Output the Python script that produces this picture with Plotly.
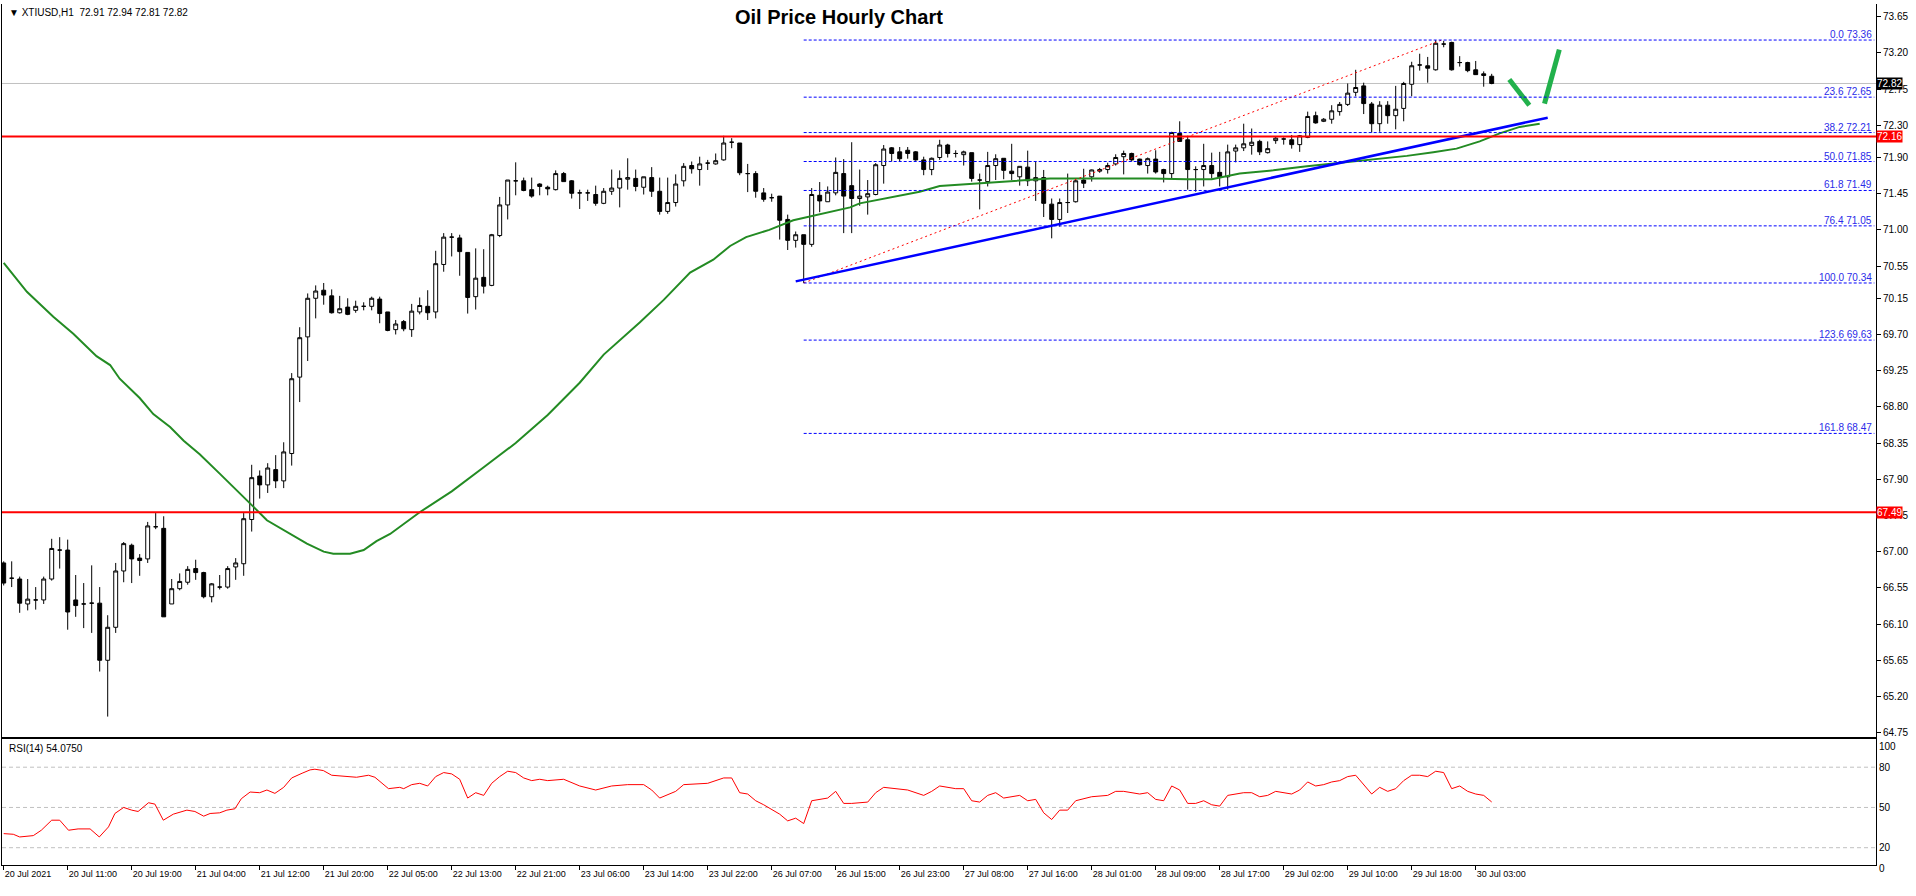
import plotly.graph_objects as go

# ---------------- data ----------------
opens = [66.86,66.67,66.66,66.35,66.40,66.40,66.66,67.02,67.02,66.40,66.35,66.36,66.36,65.65,66.06,66.76,67.08,66.92,66.91,67.31,
         67.29,66.35,66.54,66.62,66.79,66.74,66.44,66.56,66.56,66.81,66.85,67.40,67.94,67.83,68.02,67.88,68.22,69.17,69.67,70.15,
         70.25,70.18,69.97,70.04,70.00,70.05,70.05,70.14,69.98,69.76,69.86,69.76,69.98,70.05,69.98,70.57,70.91,70.90,70.72,70.17,
         70.41,70.31,70.93,71.31,71.61,71.61,71.50,71.57,71.53,71.50,71.70,71.61,71.46,71.46,71.44,71.33,71.48,71.52,71.63,71.64,
         71.53,71.65,71.48,71.23,71.34,71.61,71.80,71.75,71.83,71.82,71.87,72.09,72.08,71.70,71.70,71.46,71.40,71.42,71.13,70.87,
         70.94,70.82,71.43,71.35,71.46,71.70,71.55,71.39,71.41,71.44,71.80,72.02,71.97,71.99,71.97,71.87,71.75,71.90,72.055,71.95,
         71.935,71.96,71.62,71.60,71.80,71.89,71.73,71.66,71.78,71.61,71.65,71.32,71.13,71.34,71.35,71.62,71.66,71.73,71.75,71.82,
         71.91,71.95,71.88,71.80,71.88,71.75,71.70,72.20,72.12,71.75,71.75,71.80,71.715,71.66,71.98,72.02,72.05,72.10,71.96,72.11,
         72.13,72.12,72.06,72.15,72.42,72.35,72.375,72.47,72.56,72.71,72.79,72.565,72.32,72.55,72.42,72.51,72.81,73.05,73.04,72.99,
         73.31,73.33,73.08,73.08,72.99,72.94,72.91]
highs = [66.88,66.88,66.69,66.66,66.56,66.69,67.16,67.18,67.15,66.71,66.61,66.83,66.56,66.21,66.86,67.12,67.10,66.97,67.37,67.48,
         67.44,66.66,66.73,66.82,66.90,66.75,66.61,66.71,66.82,66.92,67.48,68.08,68.01,68.10,68.20,68.36,69.22,69.79,70.21,70.31,
         70.34,70.26,70.18,70.15,70.12,70.10,70.17,70.17,69.98,69.88,69.88,70.08,70.16,70.25,70.74,70.96,70.96,70.94,70.72,70.77,
         70.76,70.95,71.41,71.62,71.84,71.65,71.65,71.58,71.55,71.74,71.72,71.62,71.50,71.50,71.55,71.52,71.75,71.74,71.89,71.75,
         71.66,71.78,71.65,71.65,71.69,71.83,71.85,71.91,71.87,71.95,72.17,72.14,72.08,71.82,71.73,71.52,71.45,71.42,71.19,70.98,
         70.94,71.52,71.595,71.54,71.90,71.88,72.09,71.75,71.62,71.83,72.055,72.03,72.03,72.03,71.98,71.91,71.90,72.12,72.07,71.99,
         71.985,71.96,71.70,71.97,71.94,71.89,72.07,71.79,71.985,71.85,71.745,71.39,71.39,71.70,71.62,71.76,71.75,71.77,71.835,71.94,
         71.985,71.96,71.885,71.90,71.99,71.76,72.22,72.35,72.17,71.79,72.07,71.96,71.97,72.06,72.06,72.32,72.26,72.12,72.10,72.16,
         72.15,72.18,72.18,72.47,72.47,72.39,72.55,72.59,72.82,72.99,72.83,72.59,72.60,72.60,72.79,72.84,73.09,73.19,73.15,73.36,
         73.35,73.34,73.16,73.09,73.10,72.97,72.94]
lows = [66.58,66.56,66.24,66.27,66.28,66.35,66.64,66.79,66.03,66.19,66.05,65.99,65.51,64.95,65.99,66.62,66.61,66.70,66.86,67.28,
        66.19,66.35,66.52,66.59,66.65,66.42,66.37,66.53,66.54,66.65,66.70,67.25,67.66,67.73,67.79,67.79,68.07,68.86,69.37,69.90,
        70.07,69.96,69.96,69.94,69.97,70.00,70.00,69.84,69.74,69.70,69.74,69.67,69.95,69.88,69.90,70.48,70.67,70.43,69.96,70.01,
        70.21,70.30,70.91,71.13,71.43,71.48,71.40,71.43,71.43,71.49,71.60,71.39,71.26,71.36,71.30,71.32,71.435,71.28,71.50,71.48,
        71.44,71.41,71.19,71.20,71.29,71.54,71.70,71.55,71.745,71.81,71.86,72.015,71.68,71.47,71.40,71.35,71.35,70.88,70.75,70.78,
        70.34,70.79,71.22,71.35,71.43,70.96,70.96,71.30,71.19,71.43,71.575,71.85,71.85,71.885,71.86,71.68,71.68,71.87,71.90,71.90,
        71.80,71.60,71.255,71.54,71.62,71.63,71.62,71.55,71.545,71.36,71.16,70.895,71.04,71.21,71.34,71.52,71.60,71.71,71.70,71.80,
        71.69,71.85,71.80,71.70,71.70,71.59,71.64,72.10,71.50,71.475,71.54,71.64,71.54,71.50,71.84,71.98,71.935,71.93,71.95,72.07,
        72.06,72.01,71.97,72.14,72.32,72.34,72.32,72.42,72.54,72.66,72.44,72.21,72.22,72.32,72.25,72.35,72.66,72.98,72.83,72.98,
        73.27,72.98,73.03,72.96,72.925,72.78,72.81]
closes = [66.61,66.67,66.36,66.41,66.40,66.66,67.04,67.02,66.25,66.33,66.35,66.36,65.65,66.06,66.76,67.10,66.91,66.89,67.32,67.31,
          66.19,66.54,66.63,66.78,66.74,66.44,66.60,66.56,66.79,66.86,67.41,67.92,67.83,68.04,67.88,68.24,69.15,69.66,70.15,70.24,
          70.19,69.97,70.02,69.95,70.05,70.05,70.15,69.96,69.75,69.83,69.77,69.99,70.06,69.97,70.58,70.91,70.91,70.73,70.16,70.40,
          70.30,70.94,71.31,71.62,71.61,71.49,71.42,71.54,71.51,71.70,71.60,71.455,71.46,71.46,71.33,71.48,71.52,71.64,71.65,71.54,
          71.66,71.48,71.23,71.34,71.57,71.79,71.76,71.82,71.83,71.86,72.08,72.09,71.71,71.70,71.48,71.38,71.40,71.12,70.87,70.94,
          70.82,71.44,71.36,71.47,71.715,71.42,71.39,71.42,71.45,71.81,72.005,71.95,71.885,71.95,71.87,71.75,71.89,72.055,71.95,71.95,
          71.97,71.64,71.62,71.80,71.885,71.74,71.70,71.79,71.61,71.65,71.33,71.13,71.34,71.34,71.61,71.58,71.745,71.75,71.80,71.90,
          71.95,71.87,71.81,71.885,71.72,71.70,72.21,72.10,71.75,71.75,71.80,71.70,71.66,71.97,72.02,72.07,72.09,71.97,72.01,72.14,
          72.13,72.06,72.17,72.41,72.33,72.375,72.48,72.56,72.70,72.77,72.57,72.32,72.55,72.42,72.50,72.82,73.04,73.05,73.01,73.32,
          73.31,72.99,73.08,72.98,72.93,72.92,72.82]
bar_idx = list(range(len(closes)))

# moving average
ma_x = [0,2.9,6.2,8.7,11.6,13.3,14.5,17,18.7,20.8,22.5,24.5,27,29.5,31.2,32.9,35.4,37.9,40,41.2,43.3,45,46.6,48.3,
        52,56,60,64,68,72,75,77.2,79.5,82.5,85.8,88.7,90.8,92.8,95.7,98.7,102.9,105.8,107,111.2,114.5,117,120.4,125.8,
        130.8,136.2,143.3,147.9,151,154.5,158.7,162.9,167,171.2,175.4,178.7,181.6,184.5,187,189.5,192]
ma_vals = [70.59,70.23,69.92,69.71,69.43,69.32,69.15,68.91,68.71,68.55,68.38,68.21,67.97,67.73,67.56,67.39,67.24,67.10,67.00,66.975,66.975,67.02,67.13,67.22,
           67.49,67.75,68.05,68.35,68.70,69.10,69.45,69.64,69.85,70.13,70.47,70.63,70.80,70.91,71.00,71.12,71.21,71.28,71.33,71.41,71.475,71.545,71.57,71.61,
           71.64,71.64,71.64,71.63,71.63,71.70,71.74,71.79,71.83,71.87,71.92,71.965,72.01,72.10,72.20,72.28,72.32]

# RSI(14)
rsi_x = [0,1.2,2,3.7,4.7,6,7,8.1,9.3,10.8,11.95,13.1,13.9,15,16,16.8,18.1,18.9,19.95,21.2,22.9,23.9,25,25.8,27,27.9,28.9,29.7,30.8,32,32.9,33.9,35,36,
         37.3,38.3,38.9,39.95,41,42.45,44.1,45.6,46.4,48.1,49.5,50,51,52,53,54,55,56,57,58,59,60,61,62,63,64,65,66,67,68,70,72,74,76,78,80,81,82,84,85,88,90,91,
         92,93,94,95,97,98,99,100,101,103,104,105,106,108,109,110,113,115,116,117,119,120,121,122,123,124,125,127,128,129,130,131,132,133,134,136,138,
         139,140,142,143,144,145,146,147,148,149,150,151,152,153,154,155,156,157,158,159,161,162,163,164,165,166,167,168,169,170,171,172,173,174,175,
         176,177,178,179,180,181,182,183,184,185,186]
rsi_vals = [30.5,30,28,29,33,40.5,40.5,33,34,34,28,35.5,45.5,50,48,47,53.5,52.5,40.5,45,48,47,43.5,45.5,46,48,49,56.5,61.5,61,63,60.5,65,72,
            75.5,78,78.5,77.5,74,73.5,72.5,74,72.5,64,65,64,67,68,66,73,76,75,71,57,61,59,68,73,77,76,72,70,71,70,71,66,63,66,67,67,63,57,62,67,68,72,72,
            61,60,55,52,45,40,42,38,55,57,62,53,53,54,61,65,63,59,62,66,64,64,55,54,59,61,57,59,55,56,46,41,48,48,55,58,59,
            62,62,60,61,56,55,66,63,53,53,55,52,51,59,60,61,61,58,59,62,60,63,69,66,67,69,70,73,74,67,60,65,62,64,70,
            74,74,73,77,76,64,66,62,60,59,54.08]

# drawn objects
fib_levels = [0.0, 23.6, 38.2, 50.0, 61.8, 76.4, 100.0, 123.6, 161.8]
fib_prices = [73.36, 72.65, 72.21, 71.85, 71.49, 71.05, 70.34, 69.63, 68.47]
fib_start = 100
fib_diag_x = [100, 179.75]
fib_diag_y = [70.34, 73.36]
trend_x = [99.0, 193.0]
trend_y = [70.36, 72.395]
hlines = [72.16, 67.49]
bid_price = 72.82
check_x1 = [188.2, 190.7]
check_y1 = [72.87, 72.55]
check_x2 = [192.6, 194.45]
check_y2 = [72.57, 73.24]

price_ticks = [73.65,73.20,72.75,72.30,71.90,71.45,71.00,70.55,70.15,69.70,69.25,68.80,68.35,67.90,67.45,67.00,66.55,66.10,65.65,65.20,64.75]
x_tick_idx = list(range(0, 185, 8))
x_tick_labels = ["20 Jul 2021","20 Jul 11:00","20 Jul 19:00","21 Jul 04:00","21 Jul 12:00","21 Jul 20:00","22 Jul 05:00",
                 "22 Jul 13:00","22 Jul 21:00","23 Jul 06:00","23 Jul 14:00","23 Jul 22:00","26 Jul 07:00","26 Jul 15:00",
                 "26 Jul 23:00","27 Jul 08:00","27 Jul 16:00","28 Jul 01:00","28 Jul 09:00","28 Jul 17:00","29 Jul 02:00",
                 "29 Jul 10:00","29 Jul 18:00","30 Jul 03:00"]

# ---------------- geometry ----------------
W, H = 1916, 896
ML, MR, MT, MB = 2, 40, 4, 31
X_MIN = -0.2125
X_MAX = X_MIN + (W - ML - MR) / 8.0
PY_MIN, PY_MAX = 64.70, 73.808
RSI_MIN, RSI_MAX = 7.1, 100.8
plot_h = H - MT - MB


def py(pix):
    return (H - MB - pix) / plot_h


FONT = "Liberation Sans, Arial, sans-serif"

fig = go.Figure()
fig.add_trace(go.Candlestick(
    x=bar_idx, open=opens, high=highs, low=lows, close=closes,
    increasing=dict(line=dict(color="black", width=1), fillcolor="white"),
    decreasing=dict(line=dict(color="black", width=1), fillcolor="black"),
    whiskerwidth=0, showlegend=False, hoverinfo="skip", xaxis="x", yaxis="y"))

fig.add_trace(go.Scatter(x=ma_x, y=ma_vals, mode="lines", line=dict(color="#238b23", width=2),
                         showlegend=False, hoverinfo="skip", xaxis="x", yaxis="y"))
fig.add_trace(go.Scatter(x=fib_diag_x, y=fib_diag_y, mode="lines", line=dict(color="red", width=1, dash="2px,3px"),
                         showlegend=False, hoverinfo="skip", xaxis="x", yaxis="y"))
fig.add_trace(go.Scatter(x=trend_x, y=trend_y, mode="lines", line=dict(color="#0000ff", width=2.5),
                         showlegend=False, hoverinfo="skip", xaxis="x", yaxis="y"))
for cx, cy in ((check_x1, check_y1), (check_x2, check_y2)):
    fig.add_trace(go.Scatter(x=cx, y=cy, mode="lines", line=dict(color="#22b14c", width=5),
                             showlegend=False, hoverinfo="skip", xaxis="x", yaxis="y"))

fig.add_trace(go.Scatter(x=rsi_x, y=rsi_vals, mode="lines", line=dict(color="red", width=1),
                         showlegend=False, hoverinfo="skip", xaxis="x2", yaxis="y2"))

shapes = []
for lv, pr in zip(fib_levels, fib_prices):
    shapes.append(dict(type="line", xref="x", yref="y", x0=fib_start, x1=X_MAX - 0.2, y0=pr, y1=pr,
                       line=dict(color="#0000ff", width=1, dash="3px,2px"), layer="above"))
shapes.append(dict(type="line", xref="x", yref="y", x0=X_MIN, x1=X_MAX, y0=bid_price, y1=bid_price,
                   line=dict(color="#c0c0c0", width=1), layer="below"))
for hv in hlines:
    shapes.append(dict(type="line", xref="x", yref="y", x0=X_MIN, x1=X_MAX, y0=hv, y1=hv,
                       line=dict(color="#ff0000", width=2), layer="above"))
for rv in (80, 50, 20):
    shapes.append(dict(type="line", xref="x2", yref="y2", x0=X_MIN, x1=X_MAX, y0=rv, y1=rv,
                       line=dict(color="#c0c0c0", width=1, dash="4px,3px"), layer="below"))

annotations = []
for lv, pr in zip(fib_levels, fib_prices):
    annotations.append(dict(xref="paper", yref="y", x=1, y=pr, xanchor="right", yanchor="bottom",
                            text=f"{lv:.1f} {pr:.2f}", showarrow=False, xshift=-2, yshift=-2,
                            font=dict(family=FONT, size=10, color="#2a2ae8")))
for hv in hlines:
    annotations.append(dict(xref="paper", yref="y", x=1, y=hv, xanchor="left", yanchor="middle",
                            text=f"{hv:.2f}", showarrow=False, xshift=0, bgcolor="#ff0000", borderpad=0,
                            font=dict(family=FONT, size=10, color="white")))
annotations.append(dict(xref="paper", yref="y", x=1, y=bid_price, xanchor="left", yanchor="middle",
                        text=f"{bid_price:.2f}", showarrow=False, xshift=0, bgcolor="#000000", borderpad=0,
                        font=dict(family=FONT, size=10, color="white")))
annotations.append(dict(xref="paper", yref="paper", x=5 / (W - ML - MR), y=py(12), xanchor="left", yanchor="middle",
                        text="▼ XTIUSD,H1  72.91 72.94 72.81 72.82", showarrow=False,
                        font=dict(family=FONT, size=10, color="black")))
annotations.append(dict(xref="paper", yref="paper", x=837 / (W - ML - MR), y=py(17), xanchor="center", yanchor="middle",
                        text="Oil Price Hourly Chart", showarrow=False,
                        font=dict(family=FONT, size=20, color="black", weight="bold")))
annotations.append(dict(xref="paper", yref="paper", x=5 / (W - ML - MR), y=py(748), xanchor="left", yanchor="middle",
                        text="RSI(14) 54.0750", showarrow=False,
                        font=dict(family=FONT, size=10, color="black")))
annotations.append(dict(xref="paper", yref="paper", x=1, y=py(746), xanchor="left", yanchor="middle",
                        text="100", showarrow=False, xshift=1, font=dict(family=FONT, size=10, color="black")))
annotations.append(dict(xref="paper", yref="paper", x=1, y=py(868), xanchor="left", yanchor="middle",
                        text="0", showarrow=False, xshift=1, font=dict(family=FONT, size=10, color="black")))

rsi_top = py(739.3)
main_bot = py(736.7)

fig.update_layout(
    width=W, height=H, margin=dict(l=ML, r=MR, t=MT, b=MB),
    paper_bgcolor="white", plot_bgcolor="white",
    font=dict(family=FONT, size=10, color="black"),
    showlegend=False, shapes=shapes, annotations=annotations,
    xaxis=dict(domain=[0, 1], range=[X_MIN, X_MAX], anchor="y", showticklabels=False, showgrid=False,
               zeroline=False, showline=True, linecolor="black", linewidth=1, ticks="",
               rangeslider=dict(visible=False), fixedrange=True),
    yaxis=dict(domain=[main_bot, 1], range=[PY_MIN, PY_MAX], anchor="x", side="right", showgrid=False,
               zeroline=False, showline=True, mirror=True, linecolor="black", linewidth=1,
               tickmode="array", tickvals=price_ticks, ticktext=[f"{v:.2f}" for v in price_ticks],
               ticks="outside", ticklen=4, tickcolor="black", tickfont=dict(family=FONT, size=10, color="black"),
               fixedrange=True),
    xaxis2=dict(domain=[0, 1], range=[X_MIN, X_MAX], anchor="y2", matches="x", showgrid=False, zeroline=False,
                showline=True, mirror=True, linecolor="black", linewidth=1,
                tickmode="array", tickvals=x_tick_idx, ticktext=x_tick_labels, ticks="outside", ticklen=4,
                tickcolor="black", ticklabelposition="outside right",
                tickfont=dict(family=FONT, size=9, color="black"), fixedrange=True),
    yaxis2=dict(domain=[0, rsi_top], range=[RSI_MIN, RSI_MAX], anchor="x2", side="right", showgrid=False,
                zeroline=False, showline=True, mirror=True, linecolor="black", linewidth=1,
                tickmode="array", tickvals=[80, 50, 20], ticktext=["80", "50", "20"], ticks="",
                tickfont=dict(family=FONT, size=10, color="black"), fixedrange=True),
)

fig.write_html("out.html", config={"displayModeBar": False},
               post_script="document.body.style.margin='0';document.body.style.overflow='hidden';")
